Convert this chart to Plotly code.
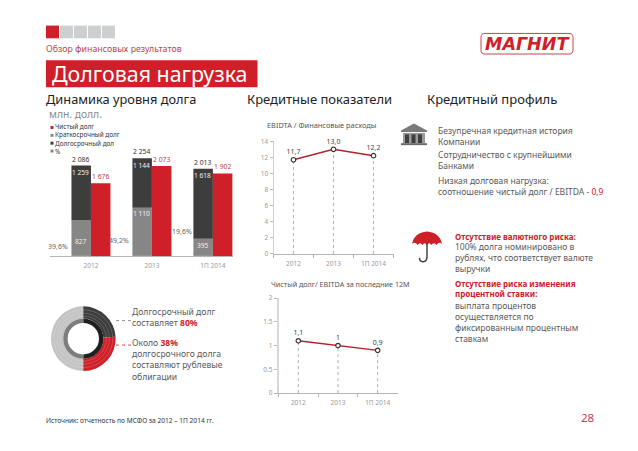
import plotly.graph_objects as go

W, H = 638, 451
RED = "#cf2029"
DARK = "#3d3d3d"
GRAY = "#868686"
TXT = "#5a5a5a"
FONT = "Noto Sans"

# ---- data ----
bar_categories = ["2012", "2013", "1П 2014"]
short_term = [827, 1110, 395]
long_term = [1259, 1144, 1618]
net_debt = [1676, 2073, 1902]
totals = [2086, 2254, 2013]
total_labels = ["2 086", "2 254", "2 013"]
short_labels = ["827", "1 110", "395"]
long_labels = ["1 259", "1 144", "1 618"]
net_labels = ["1 676", "2 073", "1 902"]
pct_labels = ["39,6%", "49,2%", "19,6%"]
ebitda_cats = ["2012", "2013", "1П 2014"]
ebitda_cov = [11.7, 13.0, 12.2]
ebitda_lbl = ["11,7", "13,0", "12,2"]
lev_cats = ["2012", "2013", "1П 2014"]
leverage = [1.1, 1.0, 0.9]
lev_lbl = ["1,1", "1", "0,9"]
donut_outer = [50, 24, 26]
donut_inner = [50, 50]


def px(x):
    return x / W


def py(y):
    return 1 - y / H


fig = go.Figure()


def dom_x(a, b):
    return [px(a), px(b)]


def dom_y(top, bottom):
    return [py(bottom), py(top)]


# ---- stacked bars ----
fig.add_bar(x=bar_categories, y=short_term, offsetgroup="a", marker_color=GRAY, marker_line_width=0,
            xaxis="x", yaxis="y", showlegend=False)
fig.add_bar(x=bar_categories, y=long_term, base=short_term, offsetgroup="a", marker_color=DARK, marker_line_width=0,
            xaxis="x", yaxis="y", showlegend=False)
fig.add_bar(x=bar_categories, y=net_debt, offsetgroup="b", marker_color=RED, marker_line_width=0,
            xaxis="x", yaxis="y", showlegend=False)

# ---- line charts ----
for xa, ya, xs, ys, lb in [("x2", "y2", ebitda_cats, ebitda_cov, ebitda_lbl),
                           ("x3", "y3", lev_cats, leverage, lev_lbl)]:
    fig.add_scatter(x=xs, y=ys, mode="lines+markers+text", text=lb, textposition="top center",
                    textfont=dict(size=7, color="#444444"),
                    line=dict(color="#b5212b", width=1.4),
                    marker=dict(size=4.5, color="white", line=dict(color="#333333", width=1.2)),
                    xaxis=xa, yaxis=ya, showlegend=False, cliponaxis=False)
    for i, yi in enumerate(ys):
        fig.add_shape(type="line", xref=xa, yref=ya, x0=i, x1=i, y0=0, y1=yi,
                      line=dict(color="#9a9a9a", width=0.8, dash="dot"), layer="below")

# ---- donut ----
CX, CY = 83.3, 340.5


def ring(values, colors, r_out, r_in, rot=0):
    fig.add_pie(values=values, marker=dict(colors=colors, line=dict(width=0)), sort=False,
                direction="clockwise", rotation=rot, hole=r_in / r_out, textinfo="none",
                hoverinfo="skip", showlegend=False,
                domain=dict(x=dom_x(CX - r_out, CX + r_out), y=dom_y(CY - r_out, CY + r_out)))


ring(donut_outer, ["#c4c4c4", DARK, RED], 33, 20.5, rot=180)
ring(donut_inner, ["#1f1f1f", "#7d7d7d"], 20.5, 16)
for r in (29.5, 26, 23):
    fig.add_shape(type="circle", xref="paper", yref="paper", x0=px(CX - r), x1=px(CX + r),
                  y0=py(CY + r), y1=py(CY - r), line=dict(color="rgba(255,255,255,0.35)", width=0.5))

ax_font = dict(size=6.5, color="#9a9a9a", family=FONT)
fig.update_layout(
    width=W, height=H, margin=dict(l=0, r=0, t=0, b=0), paper_bgcolor="white", plot_bgcolor="rgba(0,0,0,0)",
    font=dict(family=FONT), barmode="overlay", bargap=0.36, bargroupgap=0,
    xaxis=dict(domain=dom_x(50, 233), range=[-0.672, 2.33], type="category", showgrid=False, showline=True,
               linecolor="#b5b5b5", linewidth=0.8, ticks="", tickfont=ax_font, anchor="y", zeroline=False,
               ticklabelstandoff=3),
    yaxis=dict(domain=dom_y(145.5, 256), range=[0, 2500], visible=False, anchor="x"),
    xaxis2=dict(domain=dom_x(273.5, 393.5), range=[-0.5, 2.5], type="category", showgrid=False, showline=True,
                linecolor="#b5b5b5", linewidth=0.8, ticks="outside", ticklen=3, tickcolor="#b5b5b5",
                tickson="boundaries", tickfont=ax_font, anchor="y2", zeroline=False, ticklabelstandoff=3),
    yaxis2=dict(domain=dom_y(139, 254), range=[0, 14], dtick=2, showgrid=False, showline=True, linecolor="#d0d0d0",
                linewidth=0.8, ticks="outside", ticklen=3, tickcolor="#b5b5b5", tickfont=ax_font, anchor="x2",
                zeroline=False),
    xaxis3=dict(domain=dom_x(278.5, 397.5), range=[-0.5, 2.5], type="category", showgrid=False, showline=True,
                linecolor="#b5b5b5", linewidth=0.8, ticks="outside", ticklen=3, tickcolor="#b5b5b5",
                tickson="boundaries", tickfont=ax_font, anchor="y3", zeroline=False, ticklabelstandoff=3),
    yaxis3=dict(domain=dom_y(299, 396), range=[0, 2], tickvals=[0, 0.5, 1, 1.5, 2],
                ticktext=["0", "0.5", "1", "1.5", "2"], showgrid=False, showline=True, linecolor="#d8d8d8",
                linewidth=1.5, ticks="outside", ticklen=3, tickcolor="#b5b5b5", tickfont=ax_font, anchor="x3",
                zeroline=False),
)

# labels on and above the bars (category axes take the index as position)
short_shift = [-21, -6, -7]
for i, (t, tl, n, nl, s, sl, sh, ll) in enumerate(zip(totals, total_labels, net_debt, net_labels,
                                                      short_term, short_labels, short_shift, long_labels)):
    fig.add_annotation(x=i, y=t, xref="x", yref="y", text=tl, showarrow=False, yanchor="bottom", xshift=-10,
                       font=dict(size=6.8, color="#333333"))
    fig.add_annotation(x=i, y=n, xref="x", yref="y", text=nl, showarrow=False, yanchor="bottom", xshift=10,
                       font=dict(size=6.8, color="#b5454c"))
    fig.add_annotation(x=i, y=s, xref="x", yref="y", text=sl, showarrow=False, yanchor="middle", xshift=-10,
                       yshift=sh, font=dict(size=6.6, color="#f0f0f0"))
    fig.add_annotation(x=i, y=t, xref="x", yref="y", text=ll, showarrow=False, yanchor="middle", xshift=-10,
                       yshift=-7, font=dict(size=6.6, color="#f0f0f0"))


def text(x, y, lines, size=9, color=TXT, anchor="left", family=FONT):
    """y is the centre of the first line, in pixels from the top."""
    if isinstance(lines, str):
        lines = [lines]
    mid = y + (len(lines) - 1) * 1.3 * size / 2
    fig.add_annotation(x=px(x), y=py(mid), xref="paper", yref="paper", text="<br>".join(lines), showarrow=False,
                       xanchor=anchor, yanchor="middle", align="left",
                       font=dict(size=size, color=color, family=family), borderpad=0, borderwidth=0)


def rect(x0, y0, x1, y1, color, layer="above"):
    fig.add_shape(type="rect", xref="paper", yref="paper", x0=px(x0), x1=px(x1), y0=py(y0), y1=py(y1),
                  fillcolor=color, line_width=0, layer=layer)


def svg(cmds):
    out = []
    for c in cmds:
        pts = " ".join(f"{px(a):.5f},{py(b):.5f}" for a, b in c[1:])
        out.append(c[0] + pts)
    return "".join(out)


def path(cmds, fill=None, line=None, width=0):
    fig.add_shape(type="path", xref="paper", yref="paper", path=svg(cmds), fillcolor=fill,
                  line=dict(color=line, width=width) if line else dict(width=0))


# header blocks
rect(46, 21, 59, 34, RED)
for x0 in (60, 74, 88, 102):
    rect(x0, 21, x0 + 13, 34, "#cdd0d1")
text(46, 45, "Обзор финансовых результатов", 8.8, "#c0464c")
rect(46, 56.5, 257.5, 84, RED, layer="below")
text(52, 70, "Долговая нагрузка", 21.4, "white")

# section titles
text(46, 95.5, "Динамика уровня долга", 12.8, "#222222")
text(247, 95.5, "Кредитные показатели", 13, "#222222")
text(427, 95.5, "Кредитный профиль", 13, "#222222")
text(49, 111, "млн. долл.", 10.3, "#8a8a8a")

# legend
legend_names = ["Чистый долг", "Краткосрочный долг", "Долгосрочный дол", "%"]
for y, col in [(125, RED), (133, GRAY), (141, DARK), (149, GRAY)]:
    rect(50.5, y - 1.5, 53.5, y + 1.5, col)
text(54.5, 124.5, legend_names, 6.4, "#333333")

# percent labels
text(58, 246, pct_labels[0], 7, "#666666", "center")
text(119, 240, pct_labels[1], 7, "#666666", "center")
text(182, 231, pct_labels[2], 7, "#666666", "center")

text(267, 122, "EBIDTA / Финансовые расходы", 7.4, "#555555")
text(271, 285, "Чистый долг/ EBITDA за последние 12М", 7.2, "#555555")

# credit profile
text(438, 128, ["Безупречная кредитная история", "Компании"], 8.5)
text(438, 153, ["Сотрудничество с крупнейшими", "Банками"], 8.5)
text(438, 179, ["Низкая долговая нагрузка:",
                'соотношение чистый долг / EBITDA - <span style="color:#cf2029">0,9</span>'], 8.5)

# risk text
text(455, 236, "<b>Отсутствие валютного риска:</b>", 8, RED)
text(455, 247, ["100% долга номинировано в", "рублях, что соответствует валюте", "выручки"], 8.5)
text(455, 284.5, ["<b>Отсутствие риска изменения</b>", "<b>процентной ставки:</b>"], 8, RED)
text(455, 307, ["выплата процентов", "осуществляется по", "фиксированным процентным", "ставкам"], 8.5)

# donut callouts
for x0, x1, y, col in [(116, 131, 322, "#777777"), (116, 131, 347, RED)]:
    fig.add_shape(type="line", xref="paper", yref="paper", x0=px(x0), x1=px(x1), y0=py(y), y1=py(y),
                  line=dict(color=col, width=0.8, dash="dot"))
text(132, 313, ["Долгосрочный долг", 'составляет <b style="color:#cf2029">80%</b>'], 8.6)
text(132, 345.5, ['Около <b style="color:#cf2029">38%</b>', "долгосрочного долга", "составляют рублевые", "облигации"],
     8.6)

# footer
text(46, 424, "Источник: отчетность по МСФО за 2012 – 1П 2014 гг.", 6.6, "#333333")
text(594, 421, "28", 11.5, "#c0404a", "right")

# logo
path([("M", (485, 29)), ("L", (569, 29)), ("Q", (573, 29), (573, 33)), ("L", (573, 46)),
      ("Q", (573, 50), (569, 50)), ("L", (485, 50)), ("Q", (481, 50), (481, 46)), ("L", (481, 33)),
      ("Q", (481, 29), (485, 29)), ("Z",)], fill="white", line="#c8454b", width=1)
text(527, 39.5, "<b><i>МАГНИТ</i></b>", 17.5, RED, "center", family="DejaVu Sans")

# bank icon
path([("M", (401, 128)), ("L", (414, 121)), ("L", (427, 128)), ("L", (427, 129.5)), ("L", (401, 129.5)), ("Z",)],
     fill="#7a7a7a")
rect(403, 130.5, 425, 141, "#9a9a9a")
for x0 in (405, 411.5, 418):
    rect(x0, 132, x0 + 4, 141, "#3f3f3f")
rect(401, 141, 427, 143, "#6a6a6a")

# umbrella
path([("M", (412, 244)), ("Q", (414, 232), (427, 231)), ("Q", (440, 232), (442, 244)),
      ("Q", (439, 241), (436.5, 245)), ("Q", (434, 241), (431.5, 245)), ("Q", (429, 241), (427, 245)),
      ("Q", (425, 241), (422.5, 245)), ("Q", (420, 241), (417.5, 245)), ("Q", (415, 241), (412, 244)), ("Z",)],
     fill="#cf2029")
path([("M", (427, 243)), ("L", (427, 257)), ("Q", (427, 262), (423, 262)), ("Q", (419.5, 262), (419.5, 258))],
     line="#3a3a3a", width=1.4)

fig.write_html("out.html", config={"displayModeBar": False},
               post_script="document.body.style.margin='0';")
